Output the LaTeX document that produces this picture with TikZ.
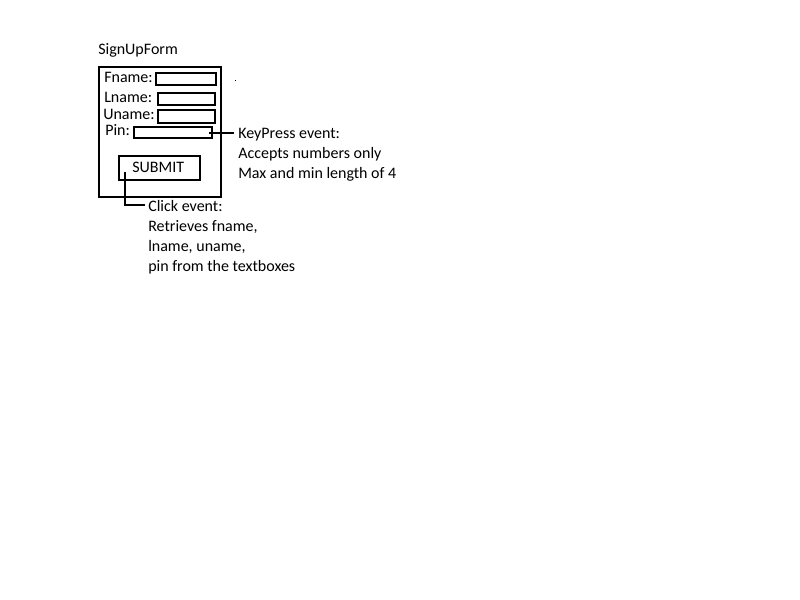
\documentclass[tikz,border=0pt]{standalone}
\usepackage{fontspec}
\setmainfont{Carlito}
\begin{document}
\begin{tikzpicture}[x=0.75pt,y=-0.75pt,
  txt/.style={anchor=base west,inner sep=0pt,font=\fontsize{12pt}{14pt}\selectfont},
  box/.style={draw,line width=1.5pt,inner sep=0pt,anchor=north west},
  conn/.style={draw,line width=1.5pt}]
\useasboundingbox (0,0) rectangle (800,600);
\node[txt] (title) at (98,54) {SignUpForm};
\node[box,minimum width={122*0.75pt},minimum height={130*0.75pt}] (form) at (98,66) {};
\node[txt] (lf) at (104,82) {Fname:};
\node[box,minimum width={60*0.75pt},minimum height={12*0.75pt}] (bf) at (155,72) {};
\node[txt] (ll) at (104,102) {Lname:};
\node[box,minimum width={57*0.75pt},minimum height={12*0.75pt}] (bl) at (157,92) {};
\node[txt] (lu) at (103,119) {Uname:};
\node[box,minimum width={57*0.75pt},minimum height={13*0.75pt}] (bu) at (157,109) {};
\node[txt] (lp) at (105,135) {Pin:};
\node[box,minimum width={78*0.75pt},minimum height={11*0.75pt}] (pinbox) at (133,126) {};
\node[box,minimum width={81*0.75pt},minimum height={24*0.75pt}] (submit) at (118,155) {};
\node[txt] at (132,172) {SUBMIT};
\fill (234.5,79.5) rectangle (236,81);
\node[txt] (kp) at (238,138) {KeyPress event:};
\node[txt] (kp2) at (238,158) {Accepts numbers only};
\node[txt] (kp3) at (238,178) {Max and min length of 4};
\coordinate (kpend) at (234,133);
\draw[conn] ([xshift=-3pt]pinbox.east |- kpend) -- (kpend);
\node[txt] (ce) at (148,211) {Click event:};
\node[txt] (ce2) at (148,231) {Retrieves fname,};
\node[txt] (ce3) at (148,251) {lname, uname,};
\node[txt] (ce4) at (148,271) {pin from the textboxes};
\coordinate (ceend) at (145,205);
\coordinate (cestart) at (125,172);
\draw[conn] (cestart) |- (ceend);
\end{tikzpicture}
\end{document}
